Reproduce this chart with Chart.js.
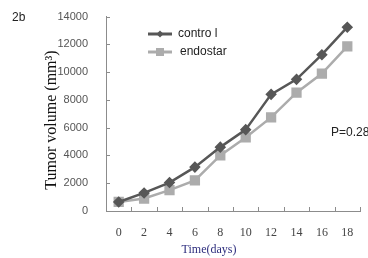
<!DOCTYPE html>
<html>
<head>
<meta charset="utf-8">
<script src="https://cdn.jsdelivr.net/npm/chart.js@4.4.1/dist/chart.umd.min.js"></script>
<style>
  html, body { margin: 0; padding: 0; background: #fff; }
  #wrap { width: 368px; height: 258px; position: relative; }
</style>
</head>
<body>
<div id="wrap"><canvas id="c"></canvas></div>
<script>
// data
var days = ["0", "2", "4", "6", "8", "10", "12", "14", "16", "18"];
var controlVol = [650, 1300, 2050, 3160, 4600, 5860, 8400, 9480, 11260, 13240];
var endostarVol = [650, 900, 1500, 2200, 4000, 5300, 6740, 8520, 9900, 11860];
var yTicks = [0, 2000, 4000, 6000, 8000, 10000, 12000, 14000];

var darkGrey = "#575757";
var lightGrey = "#acacac";
var serif = "'Liberation Serif', 'Times New Roman', serif";
var sans = "'Liberation Sans', Arial, sans-serif";

// extra bits: panel label, axis titles, legend, p value, inward tick marks
var extras = {
    id: "extras",
    afterDraw: function (chart) {
        var ctx = chart.ctx;
        var xs = chart.scales.x, ys = chart.scales.y;
        ctx.save();
        ctx.strokeStyle = "#8c8c8c";
        ctx.lineWidth = 1;
        // x tick marks, between categories, pointing up
        var step = xs.getPixelForValue(1) - xs.getPixelForValue(0);
        for (var i = 1; i <= days.length; i++) {
            var px = Math.round(xs.getPixelForValue(i) - step / 2) + 0.5;
            ctx.beginPath();
            ctx.moveTo(px, xs.top);
            ctx.lineTo(px, xs.top - 4);
            ctx.stroke();
        }
        // y tick marks pointing right
        yTicks.forEach(function (v) {
            var py = Math.round(ys.getPixelForValue(v)) + 0.5;
            ctx.beginPath();
            ctx.moveTo(ys.right, py);
            ctx.lineTo(ys.right + 4, py);
            ctx.stroke();
        });

        ctx.fillStyle = "#222";
        ctx.textBaseline = "middle";
        ctx.textAlign = "left";
        ctx.font = "12px " + sans;
        ctx.fillText("2b", 12, 18);
        ctx.fillText("P=0.28", 331, 133);

        // axis titles
        ctx.textAlign = "center";
        ctx.fillStyle = "#2e2e7e";
        ctx.font = "12px " + serif;
        ctx.fillText("Time(days)", 209, 250);
        ctx.save();
        ctx.translate(52, 120);
        ctx.rotate(-Math.PI / 2);
        ctx.fillStyle = "#111";
        ctx.font = "16px " + serif;
        ctx.fillText("Tumor volume (mm³)", 0, 0);
        ctx.restore();

        // legend
        ctx.textAlign = "left";
        var items = [
            { ds: chart.data.datasets[0], y: 34, tx: 178 },
            { ds: chart.data.datasets[1], y: 52, tx: 180 }
        ];
        items.forEach(function (it) {
            ctx.strokeStyle = it.ds.borderColor;
            ctx.lineWidth = 3;
            ctx.beginPath();
            ctx.moveTo(148, it.y);
            ctx.lineTo(172, it.y);
            ctx.stroke();
            ctx.fillStyle = it.ds.pointBackgroundColor;
            ctx.beginPath();
            if (it.ds.pointStyle === "rect") {
                ctx.rect(160 - 4, it.y - 4, 8, 8);
            } else {
                ctx.moveTo(160, it.y - 3.5);
                ctx.lineTo(163.5, it.y);
                ctx.lineTo(160, it.y + 3.5);
                ctx.lineTo(156.5, it.y);
                ctx.closePath();
            }
            ctx.fill();
            ctx.fillStyle = "#222";
            ctx.font = "12px " + sans;
            ctx.fillText(it.ds.label, it.tx, it.y);
        });
        ctx.restore();
    }
};

new Chart(document.getElementById("c"), {
    type: "line",
    data: {
        labels: days,
        datasets: [
            {
                label: "contro l",
                data: controlVol,
                borderColor: darkGrey,
                backgroundColor: darkGrey,
                pointBackgroundColor: darkGrey,
                pointBorderColor: darkGrey,
                borderWidth: 2.5,
                pointStyle: "rectRot",
                pointRadius: 4,
                tension: 0
            },
            {
                label: "endostar",
                data: endostarVol,
                borderColor: lightGrey,
                backgroundColor: lightGrey,
                pointBackgroundColor: lightGrey,
                pointBorderColor: lightGrey,
                borderWidth: 2.5,
                pointStyle: "rect",
                pointRadius: 5.5,
                tension: 0
            }
        ]
    },
    options: {
        responsive: true,
        maintainAspectRatio: false,
        animation: false,
        layout: { padding: { top: 15, right: 2, left: 0, bottom: 0 } },
        plugins: {
            legend: { display: false },
            tooltip: { enabled: false }
        },
        scales: {
            x: {
                offset: true,
                grid: { display: false },
                border: { color: "#8c8c8c", width: 1 },
                ticks: {
                    padding: 7,
                    color: "#444",
                    font: { family: serif, size: 12 }
                },
                afterFit: function (s) { s.height = 47; }
            },
            y: {
                min: 0,
                max: 14000,
                afterBuildTicks: function (s) {
                    s.ticks = yTicks.map(function (v) { return { value: v }; });
                },
                grid: { display: false },
                border: { color: "#8c8c8c", width: 1 },
                ticks: {
                    padding: 10,
                    color: "#555",
                    font: { family: sans, size: 11 },
                    callback: function (v) { return String(v); }
                },
                afterFit: function (s) { s.width = 106; }
            }
        }
    },
    plugins: [extras]
});
</script>
</body>
</html>
